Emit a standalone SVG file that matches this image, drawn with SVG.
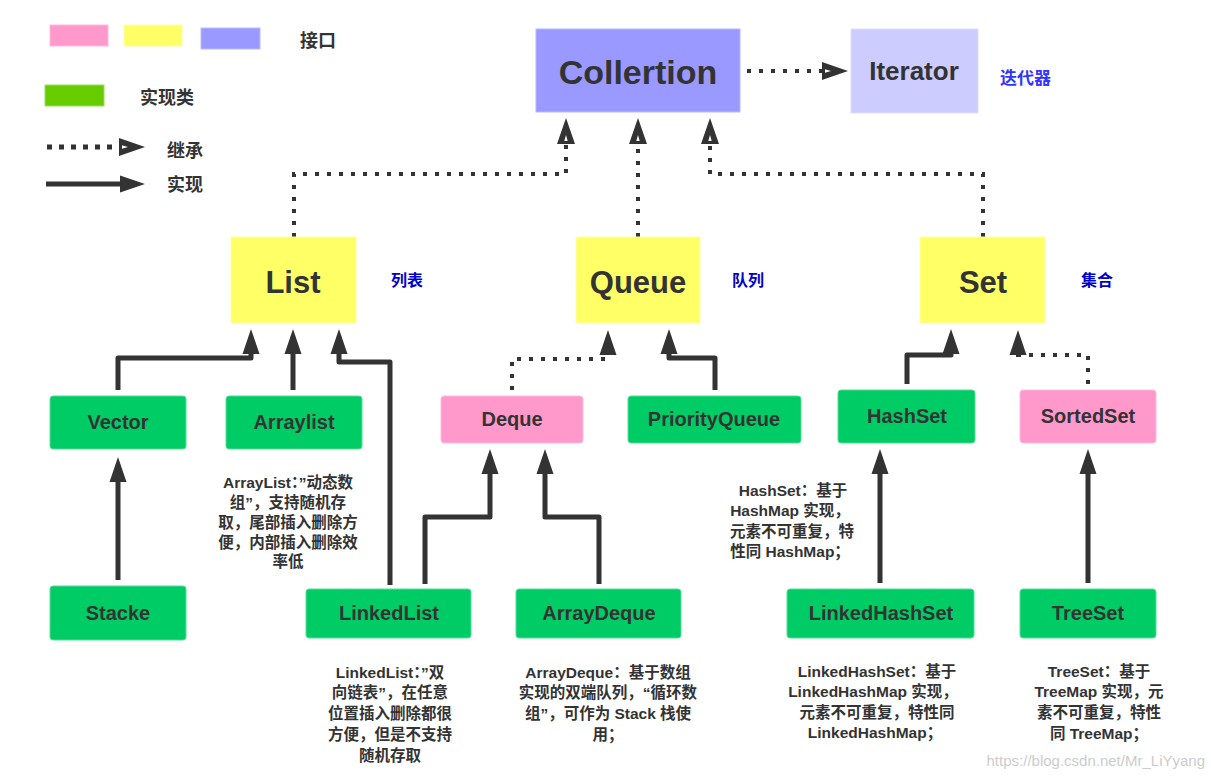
<svg xmlns="http://www.w3.org/2000/svg" width="1211" height="777" viewBox="0 0 1211 777">
<style>
text{font-family:"Liberation Sans","Noto Sans CJK SC",Arial,sans-serif;font-weight:bold;fill:#333}
.c{text-anchor:middle}
.big{font-size:31px}
.nd{font-size:20px}
.note{font-size:15.5px;text-anchor:middle}
.leg{font-size:18px}
.blue{font-size:16px;fill:#0000cc}
.pink{fill:#ff99cc;stroke:#ffbbdd;stroke-width:1}
.yel{fill:#ffff66;stroke:#ffffaa;stroke-width:1}
.grn{fill:#00cc66;stroke:#55dd99;stroke-width:1}
.sol{fill:none;stroke:#333;stroke-width:5;stroke-linejoin:round}
.dot{fill:none;stroke:#333;stroke-width:4;stroke-dasharray:4 8}
</style>
<defs>
<marker id="ah" markerUnits="userSpaceOnUse" markerWidth="28" markerHeight="20" viewBox="0 0 28 20" refX="1" refY="10" orient="auto">
<path d="M0,1.5 L25,10 L0,18.5 z" fill="#333"/>
</marker>
<marker id="ih" markerUnits="userSpaceOnUse" markerWidth="28" markerHeight="20" viewBox="0 0 28 20" refX="1" refY="10" orient="auto">
<path d="M0,1 L26,10 L0,19 z" fill="#333"/>
<path d="M3,8.3 L9,10 L3,11.7 z" fill="#fff"/>
</marker>
</defs>
<rect width="1211" height="777" fill="#fff"/>

<g id="legend">
<rect x="50" y="25" width="58" height="21" class="pink"/>
<rect x="124" y="25" width="58" height="21" class="yel"/>
<rect x="201" y="28" width="59" height="21" fill="#9999ff" stroke="#bbbbff"/>
<text x="300" y="47" class="leg">接口</text>
<rect x="45" y="85" width="59" height="21" fill="#66cc00" stroke="#99dd66"/>
<text x="140" y="104" class="leg">实现类</text>
<path d="M47,147 H120" fill="none" stroke="#333" stroke-width="5" stroke-dasharray="5 7" marker-end="url(#ih)"/>
<text x="167" y="157" class="leg">继承</text>
<path d="M46,184 H121" fill="none" stroke="#333" stroke-width="5" marker-end="url(#ah)"/>
<text x="167" y="191" class="leg">实现</text>
</g>

<g id="connectors">
<path class="dot" d="M747,71 H823" marker-end="url(#ih)"/>
<path class="dot" d="M294,237 V174 H566 V143" marker-end="url(#ih)"/>
<path class="dot" d="M638,237 V143" marker-end="url(#ih)"/>
<path class="dot" d="M983,237 V174 H710 V143" marker-end="url(#ih)"/>
<path class="sol" d="M118,390 V358 H251 V353" marker-end="url(#ah)"/>
<path class="sol" d="M293,390 V353" marker-end="url(#ah)"/>
<path class="sol" d="M390,585 V362 H339 V353" marker-end="url(#ah)"/>
<path class="sol" d="M118,580 V481" marker-end="url(#ah)"/>
<path class="sol" d="M425,584 V517 H490 V473" marker-end="url(#ah)"/>
<path class="sol" d="M599,584 V517 H545 V473" marker-end="url(#ah)"/>
<path class="dot" d="M512,390 V359 H608 V354" marker-end="url(#ah)"/>
<path class="sol" d="M715,390 V358 H669 V353" marker-end="url(#ah)"/>
<path class="sol" d="M907,384 V355 H951 V353" marker-end="url(#ah)"/>
<path class="dot" d="M1088,384 V355 H1018 V354" marker-end="url(#ah)"/>
<path class="sol" d="M880,583 V473" marker-end="url(#ah)"/>
<path class="sol" d="M1088,583 V473" marker-end="url(#ah)"/>
</g>

<g id="collertion">
<rect x="536" y="29" width="204" height="83" fill="#9999ff" stroke="#b8b8ff"/>
<text x="638" y="84" class="c" font-size="34">Collertion</text>
</g>
<g id="iterator">
<rect x="851" y="29" width="127" height="84" fill="#ccccff" stroke="#ddddff"/>
<text x="914" y="80" class="c" font-size="26">Iterator</text>
<text x="1000" y="84" font-size="17" style="fill:#3333ff">迭代器</text>
</g>

<g id="list">
<rect x="231" y="237" width="125" height="86" class="yel"/>
<text x="293" y="293" class="c big">List</text>
<text x="391" y="286" class="blue">列表</text>
</g>
<g id="queue">
<rect x="576" y="237" width="124" height="86" class="yel"/>
<text x="638" y="293" class="c big">Queue</text>
<text x="732" y="286" class="blue">队列</text>
</g>
<g id="set">
<rect x="920" y="237" width="125" height="86" class="yel"/>
<text x="983" y="293" class="c big">Set</text>
<text x="1081" y="286" class="blue">集合</text>
</g>

<g id="vector">
<rect x="50" y="396" width="136" height="53" rx="3" class="grn"/>
<text x="118" y="429" class="c nd">Vector</text>
</g>
<g id="arraylist">
<rect x="226" y="396" width="136" height="53" rx="3" class="grn"/>
<text x="294" y="429" class="c nd">Arraylist</text>
</g>
<g id="deque">
<rect x="441" y="396" width="142" height="47" rx="3" class="pink"/>
<text x="512" y="426" class="c nd">Deque</text>
</g>
<g id="priorityqueue">
<rect x="628" y="396" width="173" height="47" rx="3" class="grn"/>
<text x="714" y="426" class="c nd">PriorityQueue</text>
</g>
<g id="hashset">
<rect x="838" y="390" width="137" height="53" rx="3" class="grn"/>
<text x="907" y="423" class="c nd">HashSet</text>
</g>
<g id="sortedset">
<rect x="1020" y="390" width="136" height="53" rx="3" class="pink"/>
<text x="1088" y="423" class="c nd">SortedSet</text>
</g>
<g id="stacke">
<rect x="50" y="586" width="136" height="54" rx="3" class="grn"/>
<text x="118" y="620" class="c nd">Stacke</text>
</g>
<g id="linkedlist">
<rect x="306" y="589" width="165" height="49" rx="3" class="grn"/>
<text x="389" y="620" class="c nd">LinkedList</text>
</g>
<g id="arraydeque">
<rect x="516" y="589" width="165" height="49" rx="3" class="grn"/>
<text x="599" y="620" class="c nd">ArrayDeque</text>
</g>
<g id="linkedhashset">
<rect x="787" y="589" width="187" height="49" rx="3" class="grn"/>
<text x="881" y="620" class="c nd">LinkedHashSet</text>
</g>
<g id="treeset">
<rect x="1020" y="589" width="136" height="49" rx="3" class="grn"/>
<text x="1088" y="620" class="c nd">TreeSet</text>
</g>

<g id="notes">
<text class="note" x="288" y="488">ArrayList：”动态数</text>
<text class="note" x="288" y="508">组”，支持随机存</text>
<text class="note" x="288" y="528">取，尾部插入删除方</text>
<text class="note" x="288" y="548">便，内部插入删除效</text>
<text class="note" x="288" y="567">率低</text>

<text class="note" x="793" y="496">HashSet：基于</text>
<text class="note" x="790" y="516">HashMap 实现，</text>
<text class="note" x="792" y="537">元素不可重复，特</text>
<text class="note" x="790" y="557">性同 HashMap；</text>

<text class="note" x="390" y="678">LinkedList：”双</text>
<text class="note" x="390" y="698">向链表”，在任意</text>
<text class="note" x="390" y="719">位置插入删除都很</text>
<text class="note" x="390" y="740">方便，但是不支持</text>
<text class="note" x="390" y="761">随机存取</text>

<text class="note" x="608" y="678">ArrayDeque：基于数组</text>
<text class="note" x="608" y="698">实现的双端队列，“循环数</text>
<text class="note" x="608" y="719">组”，可作为 Stack 栈使</text>
<text class="note" x="608" y="740">用；</text>

<text class="note" x="877" y="677">LinkedHashSet：基于</text>
<text class="note" x="873" y="697">LinkedHashMap 实现，</text>
<text class="note" x="877" y="718">元素不可重复，特性同</text>
<text class="note" x="875" y="738">LinkedHashMap；</text>

<text class="note" x="1099" y="677">TreeSet：基于</text>
<text class="note" x="1099" y="697">TreeMap 实现，元</text>
<text class="note" x="1099" y="718">素不可重复，特性</text>
<text class="note" x="1099" y="739">同 TreeMap；</text>
</g>

<text x="1205" y="766" text-anchor="end" font-size="15" style="font-weight:normal;fill:#cccccc">https://blog.csdn.net/Mr_LiYyang</text>
</svg>
